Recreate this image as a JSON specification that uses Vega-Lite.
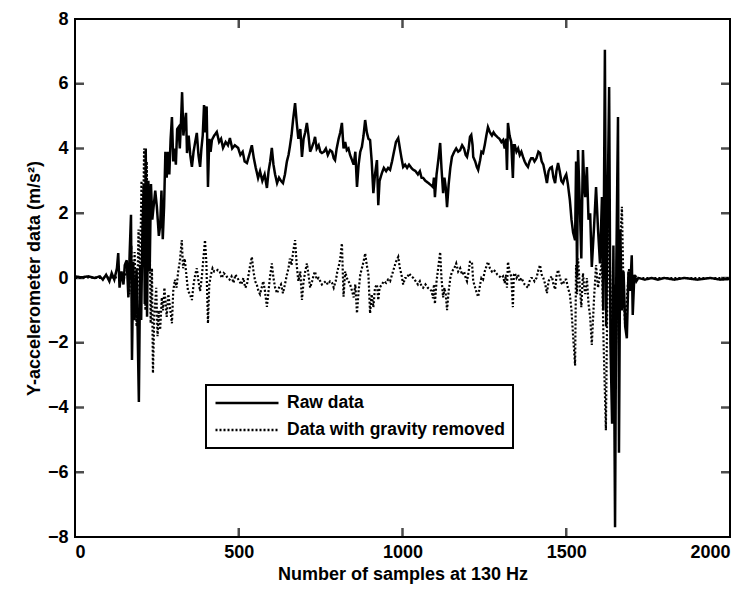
{
"$schema":"https://vega.github.io/schema/vega-lite/v6.json",
"width":655,"height":518,
"autosize":{"type":"none"},
"padding":{"left":75,"top":19,"right":23,"bottom":55},
"background":"white",
"config":{"view":{"stroke":"black","strokeWidth":2},"font":"Liberation Sans",
"axis":{"grid":false,"domain":false,"ticks":false,"labelColor":"black","labelFontSize":18,"labelFontWeight":"bold","titleColor":"black","titleFontSize":18,"titleFontWeight":"bold","labelPadding":7,"format":"d"}},
"datasets":{
"xt":[{"t":500},{"t":1000},{"t":1500}],
"yt":[{"t":-6},{"t":-4},{"t":-2},{"t":0},{"t":2},{"t":4},{"t":6}],
"raw":[{"s":0,"v":0.05},{"s":20,"v":0.02},{"s":40,"v":0.05},{"s":60,"v":0},{"s":76,"v":0.05},{"s":85,"v":-0.05},{"s":95,"v":0.1},{"s":105,"v":-0.1},{"s":112,"v":0.15},{"s":120,"v":-0.05},{"s":128,"v":0.3},{"s":132,"v":0.77},{"s":136,"v":-0.3},{"s":142,"v":0.2},{"s":148,"v":-0.2},{"s":152,"v":0.4},{"s":158,"v":0.55},{"s":163,"v":-0.6},{"s":167,"v":0.8},{"s":171,"v":1.95},{"s":174,"v":-2.53},{"s":178,"v":0.5},{"s":182,"v":-1.3},{"s":188,"v":0.3},{"s":195,"v":-3.83},{"s":199,"v":0.4},{"s":202,"v":-1.3},{"s":206,"v":1.5},{"s":210,"v":2.9},{"s":213,"v":-0.8},{"s":216,"v":4.0},{"s":220,"v":-1.2},{"s":224,"v":3.0},{"s":228,"v":0.2},{"s":232,"v":2.9},{"s":236,"v":1.8},{"s":240,"v":2.2},{"s":245,"v":2.7},{"s":250,"v":2.2},{"s":256,"v":1.3},{"s":260,"v":1.6},{"s":264,"v":2.7},{"s":268,"v":1.2},{"s":272,"v":2.2},{"s":276,"v":3.9},{"s":280,"v":3.1},{"s":284,"v":3.9},{"s":288,"v":3.2},{"s":292,"v":4.3},{"s":296,"v":4.97},{"s":300,"v":3.6},{"s":304,"v":4.0},{"s":308,"v":3.5},{"s":312,"v":4.6},{"s":316,"v":4.66},{"s":320,"v":4.0},{"s":324,"v":4.9},{"s":327,"v":5.74},{"s":331,"v":4.4},{"s":335,"v":4.8},{"s":339,"v":5.1},{"s":342,"v":3.86},{"s":347,"v":4.4},{"s":352,"v":3.8},{"s":357,"v":3.43},{"s":362,"v":3.9},{"s":367,"v":4.2},{"s":372,"v":4.48},{"s":377,"v":3.8},{"s":382,"v":3.43},{"s":386,"v":4.0},{"s":390,"v":4.4},{"s":394,"v":5.34},{"s":398,"v":4.5},{"s":402,"v":5.3},{"s":406,"v":2.81},{"s":410,"v":4.3},{"s":414,"v":3.9},{"s":418,"v":4.26},{"s":425,"v":4.4},{"s":433,"v":4.51},{"s":440,"v":4.2},{"s":446,"v":4.3},{"s":452,"v":4.02},{"s":460,"v":4.2},{"s":467,"v":4.1},{"s":473,"v":4.32},{"s":480,"v":4.0},{"s":488,"v":4.1},{"s":498,"v":4.02},{"s":505,"v":3.8},{"s":512,"v":3.9},{"s":518,"v":3.6},{"s":525,"v":3.55},{"s":532,"v":3.8},{"s":540,"v":4.1},{"s":546,"v":3.7},{"s":552,"v":3.4},{"s":559,"v":3.09},{"s":565,"v":3.3},{"s":572,"v":3.0},{"s":579,"v":3.2},{"s":586,"v":2.78},{"s":591,"v":3.3},{"s":596,"v":3.6},{"s":601,"v":4.02},{"s":606,"v":3.5},{"s":611,"v":3.2},{"s":617,"v":2.93},{"s":623,"v":3.1},{"s":629,"v":3.0},{"s":635,"v":2.93},{"s":641,"v":3.2},{"s":647,"v":3.6},{"s":652,"v":3.8},{"s":656,"v":4.05},{"s":661,"v":4.4},{"s":666,"v":4.9},{"s":672,"v":5.4},{"s":677,"v":4.8},{"s":682,"v":4.3},{"s":688,"v":4.6},{"s":693,"v":3.74},{"s":698,"v":4.3},{"s":703,"v":4.5},{"s":708,"v":4.79},{"s":713,"v":4.4},{"s":718,"v":3.9},{"s":724,"v":4.05},{"s":729,"v":4.2},{"s":733,"v":4.36},{"s":738,"v":4.0},{"s":744,"v":4.1},{"s":749,"v":3.9},{"s":754,"v":3.86},{"s":760,"v":3.9},{"s":766,"v":4.0},{"s":772,"v":3.8},{"s":779,"v":3.95},{"s":785,"v":3.9},{"s":790,"v":3.7},{"s":794,"v":3.64},{"s":799,"v":4.0},{"s":805,"v":4.3},{"s":810,"v":4.5},{"s":815,"v":4.79},{"s":820,"v":4.0},{"s":825,"v":4.2},{"s":830,"v":3.95},{"s":835,"v":4.0},{"s":840,"v":3.8},{"s":846,"v":3.64},{"s":851,"v":3.5},{"s":856,"v":3.9},{"s":861,"v":2.81},{"s":866,"v":3.5},{"s":871,"v":3.9},{"s":876,"v":4.05},{"s":881,"v":4.4},{"s":886,"v":4.88},{"s":891,"v":4.5},{"s":896,"v":4.3},{"s":901,"v":4.26},{"s":906,"v":3.6},{"s":911,"v":2.62},{"s":916,"v":3.2},{"s":922,"v":3.64},{"s":926,"v":2.25},{"s":930,"v":3.0},{"s":937,"v":3.24},{"s":943,"v":3.4},{"s":950,"v":3.3},{"s":956,"v":3.4},{"s":962,"v":3.34},{"s":968,"v":3.6},{"s":974,"v":3.9},{"s":980,"v":4.2},{"s":987,"v":4.32},{"s":992,"v":4.0},{"s":997,"v":3.7},{"s":1002,"v":3.43},{"s":1008,"v":3.5},{"s":1014,"v":3.4},{"s":1020,"v":3.5},{"s":1027,"v":3.4},{"s":1033,"v":3.34},{"s":1040,"v":3.3},{"s":1047,"v":3.2},{"s":1053,"v":3.3},{"s":1058,"v":3.1},{"s":1063,"v":3.09},{"s":1070,"v":3.0},{"s":1077,"v":2.95},{"s":1083,"v":2.9},{"s":1089,"v":2.85},{"s":1093,"v":2.81},{"s":1096,"v":3.1},{"s":1099,"v":2.5},{"s":1104,"v":3.2},{"s":1110,"v":3.7},{"s":1115,"v":4.17},{"s":1119,"v":3.4},{"s":1124,"v":2.62},{"s":1128,"v":3.1},{"s":1132,"v":2.8},{"s":1136,"v":2.19},{"s":1141,"v":2.9},{"s":1146,"v":3.4},{"s":1151,"v":3.74},{"s":1158,"v":3.9},{"s":1164,"v":4.0},{"s":1170,"v":3.9},{"s":1176,"v":3.95},{"s":1182,"v":4.1},{"s":1188,"v":4.0},{"s":1193,"v":3.8},{"s":1197,"v":3.74},{"s":1202,"v":4.0},{"s":1206,"v":4.36},{"s":1210,"v":4.42},{"s":1214,"v":4.1},{"s":1216,"v":3.74},{"s":1222,"v":3.6},{"s":1227,"v":3.43},{"s":1231,"v":3.34},{"s":1237,"v":3.64},{"s":1241,"v":3.9},{"s":1246,"v":3.86},{"s":1251,"v":4.1},{"s":1256,"v":4.4},{"s":1261,"v":4.66},{"s":1267,"v":4.5},{"s":1273,"v":4.4},{"s":1278,"v":4.5},{"s":1283,"v":4.42},{"s":1290,"v":4.35},{"s":1296,"v":4.3},{"s":1302,"v":4.2},{"s":1307,"v":4.26},{"s":1312,"v":4.0},{"s":1316,"v":4.3},{"s":1319,"v":3.34},{"s":1322,"v":4.79},{"s":1327,"v":4.4},{"s":1332,"v":4.2},{"s":1337,"v":3.09},{"s":1340,"v":4.1},{"s":1343,"v":4.1},{"s":1348,"v":3.9},{"s":1353,"v":4.0},{"s":1358,"v":3.8},{"s":1363,"v":3.9},{"s":1368,"v":3.74},{"s":1373,"v":3.6},{"s":1378,"v":3.5},{"s":1383,"v":3.43},{"s":1388,"v":3.6},{"s":1393,"v":3.7},{"s":1398,"v":3.7},{"s":1403,"v":3.6},{"s":1409,"v":3.7},{"s":1415,"v":3.9},{"s":1420,"v":3.86},{"s":1425,"v":3.6},{"s":1430,"v":3.5},{"s":1436,"v":3.2},{"s":1441,"v":2.93},{"s":1446,"v":3.3},{"s":1451,"v":3.4},{"s":1456,"v":3.43},{"s":1461,"v":3.1},{"s":1466,"v":2.93},{"s":1470,"v":3.3},{"s":1475,"v":3.55},{"s":1480,"v":3.3},{"s":1485,"v":3.0},{"s":1490,"v":2.93},{"s":1495,"v":3.1},{"s":1500,"v":3.2},{"s":1505,"v":2.9},{"s":1511,"v":2.41},{"s":1516,"v":1.8},{"s":1521,"v":1.4},{"s":1527,"v":1.17},{"s":1530,"v":3.6},{"s":1533,"v":0.03},{"s":1536,"v":3.95},{"s":1541,"v":2.4},{"s":1546,"v":0.6},{"s":1551,"v":3.95},{"s":1555,"v":2.8},{"s":1558,"v":2.5},{"s":1563,"v":3.43},{"s":1568,"v":1.8},{"s":1573,"v":2.0},{"s":1578,"v":0.34},{"s":1585,"v":1.6},{"s":1591,"v":2.81},{"s":1597,"v":1.5},{"s":1603,"v":0.45},{"s":1609,"v":2.5},{"s":1613,"v":-1.0},{"s":1618,"v":7.05},{"s":1622,"v":-1.5},{"s":1626,"v":2.0},{"s":1631,"v":5.9},{"s":1635,"v":-2.0},{"s":1640,"v":-4.5},{"s":1644,"v":1.0},{"s":1649,"v":-7.7},{"s":1653,"v":0.5},{"s":1658,"v":4.97},{"s":1661,"v":-5.4},{"s":1665,"v":1.5},{"s":1670,"v":-1.0},{"s":1675,"v":0.2},{"s":1680,"v":-1.5},{"s":1685,"v":-1.86},{"s":1690,"v":0.2},{"s":1695,"v":-0.4},{"s":1700,"v":0.7},{"s":1703,"v":-1.14},{"s":1708,"v":0.1},{"s":1714,"v":-0.1},{"s":1720,"v":0},{"s":1740,"v":-0.05},{"s":1760,"v":0},{"s":1780,"v":-0.05},{"s":1800,"v":0},{"s":1830,"v":-0.05},{"s":1860,"v":0},{"s":1900,"v":-0.05},{"s":1940,"v":0},{"s":1970,"v":-0.05},{"s":2000,"v":-0.03}],
"grav":[{"s":0,"v":0},{"s":40,"v":0.02},{"s":80,"v":0},{"s":120,"v":0.02},{"s":150,"v":0},{"s":160,"v":0.3},{"s":166,"v":-0.5},{"s":172,"v":1.0},{"s":176,"v":-1.0},{"s":182,"v":0.8},{"s":188,"v":-1.5},{"s":194,"v":1.5},{"s":198,"v":-0.5},{"s":203,"v":3.0},{"s":207,"v":1.0},{"s":211,"v":4.0},{"s":215,"v":-1.0},{"s":219,"v":3.6},{"s":223,"v":0.5},{"s":227,"v":2.2},{"s":231,"v":-1.4},{"s":235,"v":0.3},{"s":238,"v":-2.94},{"s":242,"v":-1.2},{"s":248,"v":-0.3},{"s":252,"v":-1.8},{"s":256,"v":-1.0},{"s":260,"v":-1.6},{"s":265,"v":-0.6},{"s":269,"v":-1.0},{"s":273,"v":-0.3},{"s":277,"v":-0.8},{"s":280,"v":-1.2},{"s":285,"v":-0.5},{"s":290,"v":-0.9},{"s":296,"v":-1.4},{"s":300,"v":-0.4},{"s":305,"v":-0.05},{"s":310,"v":-0.3},{"s":315,"v":0.2},{"s":320,"v":0.5},{"s":326,"v":1.17},{"s":330,"v":0.3},{"s":335,"v":0.6},{"s":340,"v":0.1},{"s":345,"v":-0.4},{"s":351,"v":-0.5},{"s":357,"v":-0.68},{"s":362,"v":-0.2},{"s":367,"v":0.1},{"s":372,"v":0.3},{"s":377,"v":-0.1},{"s":382,"v":-0.4},{"s":387,"v":0},{"s":392,"v":0.6},{"s":397,"v":1.17},{"s":401,"v":0.5},{"s":406,"v":-1.4},{"s":410,"v":-0.2},{"s":415,"v":0.1},{"s":420,"v":0.3},{"s":425,"v":0.2},{"s":430,"v":0.2},{"s":436,"v":0.25},{"s":442,"v":0.2},{"s":448,"v":0},{"s":454,"v":0.15},{"s":460,"v":0.1},{"s":466,"v":0},{"s":472,"v":-0.05},{"s":478,"v":0.05},{"s":484,"v":-0.15},{"s":490,"v":0.1},{"s":496,"v":0},{"s":502,"v":-0.1},{"s":508,"v":-0.2},{"s":514,"v":0},{"s":520,"v":-0.3},{"s":525,"v":-0.2},{"s":530,"v":0.1},{"s":535,"v":0.4},{"s":540,"v":0.65},{"s":545,"v":0.2},{"s":550,"v":-0.1},{"s":555,"v":-0.2},{"s":560,"v":-0.4},{"s":565,"v":-0.5},{"s":570,"v":-0.3},{"s":575,"v":-0.1},{"s":580,"v":-0.4},{"s":586,"v":-0.89},{"s":590,"v":-0.5},{"s":595,"v":0},{"s":601,"v":0.45},{"s":606,"v":0},{"s":611,"v":-0.3},{"s":617,"v":-0.47},{"s":623,"v":-0.3},{"s":629,"v":-0.2},{"s":635,"v":-0.47},{"s":641,"v":-0.2},{"s":647,"v":0.1},{"s":652,"v":0.3},{"s":656,"v":0.6},{"s":661,"v":0.4},{"s":666,"v":0.8},{"s":672,"v":1.17},{"s":677,"v":0.4},{"s":682,"v":-0.1},{"s":688,"v":0.2},{"s":693,"v":-0.68},{"s":698,"v":-0.1},{"s":703,"v":0.2},{"s":708,"v":0.45},{"s":713,"v":0.1},{"s":718,"v":-0.3},{"s":724,"v":-0.1},{"s":729,"v":0.1},{"s":733,"v":0.2},{"s":738,"v":-0.05},{"s":744,"v":0},{"s":749,"v":-0.1},{"s":754,"v":-0.2},{"s":760,"v":-0.15},{"s":766,"v":-0.1},{"s":772,"v":-0.2},{"s":779,"v":-0.1},{"s":785,"v":-0.15},{"s":790,"v":-0.3},{"s":796,"v":-0.1},{"s":801,"v":0.2},{"s":806,"v":0.4},{"s":810,"v":0.6},{"s":815,"v":1.07},{"s":820,"v":-0.58},{"s":825,"v":0.2},{"s":830,"v":0},{"s":835,"v":-0.1},{"s":840,"v":-0.2},{"s":846,"v":-0.4},{"s":851,"v":-0.6},{"s":856,"v":-0.2},{"s":861,"v":-1.09},{"s":866,"v":-0.4},{"s":871,"v":0.1},{"s":876,"v":0.3},{"s":881,"v":0.5},{"s":886,"v":0.76},{"s":891,"v":0.4},{"s":896,"v":0.1},{"s":901,"v":-1.09},{"s":906,"v":-0.5},{"s":911,"v":-0.9},{"s":916,"v":-0.3},{"s":922,"v":-0.2},{"s":926,"v":-0.68},{"s":930,"v":-0.3},{"s":937,"v":-0.2},{"s":943,"v":-0.1},{"s":950,"v":-0.15},{"s":956,"v":-0.05},{"s":962,"v":-0.1},{"s":968,"v":0.1},{"s":974,"v":0.3},{"s":980,"v":0.5},{"s":987,"v":0.65},{"s":992,"v":0.3},{"s":997,"v":0.1},{"s":1002,"v":-0.2},{"s":1008,"v":0},{"s":1014,"v":0},{"s":1020,"v":0.14},{"s":1027,"v":0.05},{"s":1033,"v":0},{"s":1040,"v":-0.1},{"s":1047,"v":-0.2},{"s":1053,"v":-0.1},{"s":1058,"v":-0.25},{"s":1063,"v":-0.3},{"s":1070,"v":-0.2},{"s":1077,"v":-0.3},{"s":1083,"v":-0.35},{"s":1089,"v":-0.4},{"s":1093,"v":-0.63},{"s":1096,"v":-0.2},{"s":1099,"v":-0.8},{"s":1104,"v":-0.1},{"s":1110,"v":0.4},{"s":1115,"v":0.8},{"s":1119,"v":0},{"s":1124,"v":-0.6},{"s":1128,"v":-0.3},{"s":1132,"v":-0.5},{"s":1136,"v":-0.99},{"s":1141,"v":-0.4},{"s":1146,"v":0},{"s":1151,"v":0.2},{"s":1158,"v":0.3},{"s":1164,"v":0.45},{"s":1170,"v":0.2},{"s":1176,"v":0.3},{"s":1182,"v":0.1},{"s":1188,"v":0.2},{"s":1193,"v":0},{"s":1197,"v":-0.1},{"s":1202,"v":0.2},{"s":1206,"v":0.5},{"s":1212,"v":0.5},{"s":1216,"v":-0.1},{"s":1222,"v":-0.3},{"s":1227,"v":-0.47},{"s":1231,"v":-0.58},{"s":1237,"v":-0.2},{"s":1241,"v":0},{"s":1246,"v":-0.05},{"s":1251,"v":0.2},{"s":1256,"v":0.35},{"s":1261,"v":0.5},{"s":1267,"v":0.3},{"s":1273,"v":0.2},{"s":1278,"v":0.25},{"s":1283,"v":0.2},{"s":1290,"v":0.1},{"s":1296,"v":0.05},{"s":1302,"v":0},{"s":1307,"v":0.05},{"s":1312,"v":-0.15},{"s":1316,"v":0.1},{"s":1319,"v":-0.3},{"s":1322,"v":0.5},{"s":1327,"v":0.2},{"s":1332,"v":0.05},{"s":1337,"v":-0.9},{"s":1340,"v":0.1},{"s":1343,"v":0.15},{"s":1348,"v":0},{"s":1353,"v":0.1},{"s":1358,"v":-0.1},{"s":1363,"v":0},{"s":1368,"v":-0.1},{"s":1373,"v":-0.2},{"s":1378,"v":-0.25},{"s":1383,"v":-0.3},{"s":1388,"v":-0.1},{"s":1393,"v":0},{"s":1398,"v":0},{"s":1403,"v":-0.1},{"s":1409,"v":0},{"s":1415,"v":0.25},{"s":1420,"v":0.4},{"s":1425,"v":0.1},{"s":1430,"v":0},{"s":1436,"v":-0.2},{"s":1441,"v":-0.47},{"s":1446,"v":-0.1},{"s":1451,"v":0},{"s":1456,"v":0.05},{"s":1461,"v":-0.2},{"s":1466,"v":-0.35},{"s":1470,"v":0.05},{"s":1475,"v":0.25},{"s":1480,"v":0.05},{"s":1485,"v":-0.15},{"s":1490,"v":-0.2},{"s":1495,"v":-0.05},{"s":1500,"v":-0.05},{"s":1505,"v":-0.3},{"s":1511,"v":-0.5},{"s":1516,"v":-1.0},{"s":1521,"v":-1.8},{"s":1527,"v":-2.7},{"s":1530,"v":0.4},{"s":1533,"v":-0.5},{"s":1536,"v":0.6},{"s":1541,"v":-0.2},{"s":1546,"v":-0.9},{"s":1551,"v":0.15},{"s":1555,"v":-0.3},{"s":1558,"v":-0.5},{"s":1563,"v":0},{"s":1568,"v":-0.8},{"s":1573,"v":-1.2},{"s":1578,"v":-2.07},{"s":1585,"v":-0.6},{"s":1591,"v":0.4},{"s":1597,"v":-0.3},{"s":1603,"v":0.1},{"s":1609,"v":0.5},{"s":1614,"v":-2.0},{"s":1621,"v":-4.7},{"s":1625,"v":-1.0},{"s":1630,"v":1.5},{"s":1636,"v":-0.5},{"s":1642,"v":-1.5},{"s":1648,"v":-0.2},{"s":1652,"v":-2.0},{"s":1660,"v":0.5},{"s":1665,"v":1.2},{"s":1670,"v":2.2},{"s":1675,"v":-0.5},{"s":1680,"v":-1.5},{"s":1686,"v":-0.5},{"s":1692,"v":0.3},{"s":1698,"v":-0.2},{"s":1704,"v":0},{"s":1712,"v":0.05},{"s":1720,"v":0},{"s":1800,"v":0},{"s":1900,"v":0},{"s":2000,"v":0}]
},
"layer":[
{"data":{"name":"raw"},
"mark":{"type":"line","color":"black","strokeWidth":2.5,"clip":true},
"encoding":{
"x":{"field":"s","type":"quantitative","scale":{"domain":[0,2000],"nice":false,"zero":false},"axis":{"orient":"bottom","values":[0,500,1000,1500,2000],"labelPadding":6,"title":"Number of samples at 130 Hz","titlePadding":4}},
"y":{"field":"v","type":"quantitative","scale":{"domain":[-8,8],"nice":false,"zero":false},"axis":{"orient":"left","values":[-8,-6,-4,-2,0,2,4,6,8],"labelPadding":7,"title":"Y-accelerometer data (m/s²)","titlePadding":4}},
"strokeDash":{"datum":"Raw data","type":"nominal","scale":{"domain":["Raw data","Data with gravity removed"],"range":[[1,0],[2,2]]},
"legend":{"title":null,"orient":"none","legendX":131,"legendY":366,"strokeColor":"black","fillColor":"white","padding":8,"symbolType":"stroke","symbolSize":3969,"symbolStrokeWidth":2.5,"symbolStrokeColor":"black","labelFontSize":17.5,"labelFontWeight":"bold","labelLimit":0,"labelColor":"black","labelOffset":7,"clipHeight":20,"rowPadding":7,"encode":{"legend":{"update":{"strokeWidth":{"value":2}}}}}}
}},
{"data":{"name":"grav"},
"mark":{"type":"line","color":"black","strokeWidth":2.2,"clip":true},
"encoding":{
"x":{"field":"s","type":"quantitative"},
"y":{"field":"v","type":"quantitative"},
"strokeDash":{"datum":"Data with gravity removed","type":"nominal"}
}},
{"data":{"name":"xt"},
"mark":{"type":"tick","orient":"vertical","color":"black","size":9,"thickness":2.5,"yOffset":-4.5},
"encoding":{"x":{"field":"t","type":"quantitative"},"y":{"datum":-8,"type":"quantitative"}}},
{"data":{"name":"xt"},
"mark":{"type":"tick","orient":"vertical","color":"black","size":9,"thickness":2.5,"yOffset":4.5},
"encoding":{"x":{"field":"t","type":"quantitative"},"y":{"datum":8,"type":"quantitative"}}},
{"data":{"name":"yt"},
"mark":{"type":"tick","orient":"horizontal","color":"black","size":9,"thickness":2.5,"xOffset":4.5},
"encoding":{"y":{"field":"t","type":"quantitative"},"x":{"datum":0,"type":"quantitative"}}},
{"data":{"name":"yt"},
"mark":{"type":"tick","orient":"horizontal","color":"black","size":9,"thickness":2.5,"xOffset":-4.5},
"encoding":{"y":{"field":"t","type":"quantitative"},"x":{"datum":2000,"type":"quantitative"}}}
]
}
